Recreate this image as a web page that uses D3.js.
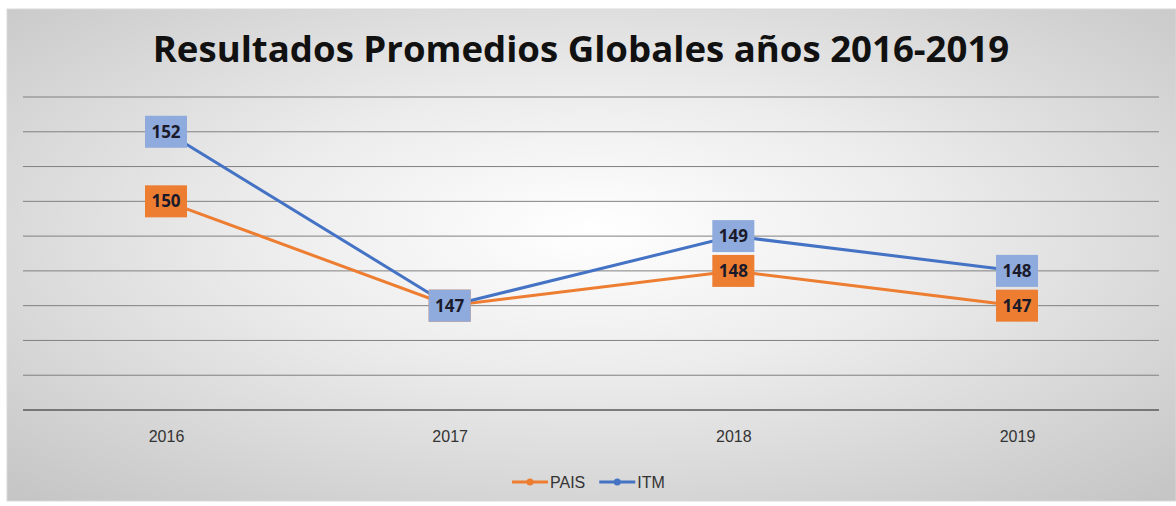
<!doctype html>
<html>
<head>
<meta charset="UTF-8">
<title>Resultados Promedios Globales</title>
<style>
  body { margin: 0; background: #fff; }
  svg { display: block; }
</style>
</head>
<body>
<div id="chart"></div>
<script src="https://cdn.jsdelivr.net/npm/d3@7"></script>
<script>
  var years = ["2016", "2017", "2018", "2019"];
  var pais = [150, 147, 148, 147];
  var itm = [152, 147, 149, 148];
  var yTicks = [144, 145, 146, 147, 148, 149, 150, 151, 152, 153];

  var series = [
    { name: "PAIS", values: pais, line: "#ed7d31", box: "#ed7d31" },
    { name: "ITM", values: itm, line: "#4472c4", box: "#8faadc" }
  ];

  var W = 1176, H = 506;
  var svg = d3.select("#chart").append("svg")
    .attr("width", W).attr("height", H);

  var defs = svg.append("defs");
  var grad = defs.append("radialGradient")
    .attr("id", "bg").attr("cx", "50%").attr("cy", "45%").attr("r", "72%");
  grad.append("stop").attr("offset", "0%").attr("stop-color", "#ffffff");
  grad.append("stop").attr("offset", "40%").attr("stop-color", "#ececec");
  grad.append("stop").attr("offset", "100%").attr("stop-color", "#c6c6c6");

  svg.append("rect")
    .attr("x", 7).attr("y", 9).attr("width", W - 7).attr("height", 492)
    .attr("fill", "url(#bg)")
    .attr("stroke", "#d9d9d9");

  var x = d3.scalePoint().domain(years).range([166, 1017]);
  var y = d3.scaleLinear().domain([144, 153]).range([410, 97]);

  // gridlines
  svg.append("g").selectAll("line")
    .data(yTicks).join("line")
    .attr("x1", 23).attr("x2", 1159)
    .attr("y1", d => y(d)).attr("y2", d => y(d))
    .attr("stroke", d => d === 144 ? "#595959" : "#808080")
    .attr("stroke-width", d => d === 144 ? 1.5 : 1);

  // x axis labels
  var xAxis = svg.append("g")
    .attr("transform", "translate(0," + y(144) + ")")
    .call(d3.axisBottom(x).tickSize(0).tickPadding(21));
  xAxis.select(".domain").remove();
  xAxis.selectAll("text")
    .attr("font-family", "'Liberation Sans', Arial, sans-serif")
    .attr("font-size", 16)
    .attr("fill", "#333");

  // title
  var title = svg.append("text")
    .attr("x", 581).attr("y", 62)
    .attr("text-anchor", "middle")
    .attr("font-family", "'Open Sans', sans-serif")
    .attr("font-weight", "bold")
    .attr("font-size", 36)
    .attr("fill", "#111")
    .text("Resultados Promedios Globales años 2016-2019");
  var tw = title.node().getComputedTextLength();
  title.attr("font-size", 36 * 857 / tw);

  var line = d3.line()
    .x((d, i) => x(years[i]))
    .y(d => y(d));

  series.forEach(function(s) {
    svg.append("path")
      .datum(s.values)
      .attr("d", line)
      .attr("fill", "none")
      .attr("stroke", s.line)
      .attr("stroke-width", 3);
  });

  // data labels
  series.forEach(function(s) {
    var g = svg.append("g").selectAll("g")
      .data(s.values).join("g")
      .attr("transform", (d, i) => "translate(" + x(years[i]) + "," + y(d) + ")");
    g.append("rect")
      .attr("x", -21).attr("y", -16)
      .attr("width", 42).attr("height", 32)
      .attr("fill", s.box);
    g.append("text")
      .attr("text-anchor", "middle")
      .attr("dy", "0.35em")
      .attr("font-family", "'Open Sans', sans-serif")
      .attr("font-weight", "bold")
      .attr("font-size", 17)
      .attr("fill", "#1a1a2a")
      .text(d => d);
  });

  // legend
  var legend = svg.append("g").attr("transform", "translate(512,482)");
  var lx = 0;
  series.forEach(function(s) {
    var item = legend.append("g").attr("transform", "translate(" + lx + ",0)");
    item.append("line")
      .attr("x1", 0).attr("x2", 36)
      .attr("stroke", s.line).attr("stroke-width", 3);
    item.append("circle")
      .attr("cx", 18).attr("r", 3.5).attr("fill", s.line);
    var t = item.append("text")
      .attr("x", 38).attr("dy", "0.35em")
      .attr("font-family", "'Liberation Sans', Arial, sans-serif")
      .attr("font-size", 16)
      .attr("fill", "#333")
      .text(s.name);
    lx += 38 + t.node().getComputedTextLength() + 14;
  });
</script>
</body>
</html>
